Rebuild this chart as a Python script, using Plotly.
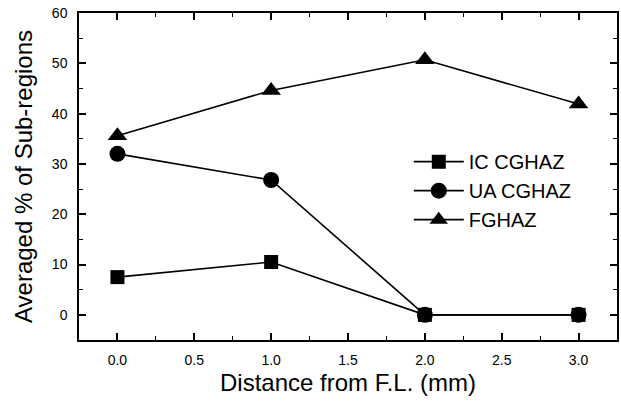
import plotly.graph_objects as go

distance = [0.0, 1.0, 2.0, 3.0]
ic_cghaz = [7.5, 10.5, 0.0, 0.0]
ua_cghaz = [32.0, 26.8, 0.0, 0.0]
fghaz = [35.6, 44.6, 50.7, 41.9]

series = [
    ("IC CGHAZ", ic_cghaz, "square", 14),
    ("UA CGHAZ", ua_cghaz, "circle", 16),
    ("FGHAZ", fghaz, "triangle-up", 17),
]

fig = go.Figure()
# draw FGHAZ and UA first so that squares sit on top at zero, but keep legend order
order = [2, 1, 0]
for i in order:
    name, vals, sym, size = series[i]
    fig.add_trace(go.Scatter(
        x=distance, y=vals, name=name, mode="lines+markers",
        line=dict(color="black", width=1.6),
        marker=dict(symbol=sym, size=size, color="black"),
        legendrank=i + 1,
    ))

axis_common = dict(
    showline=True, linecolor="black", linewidth=1.5, mirror="ticks",
    ticks="inside", ticklen=7, tickwidth=1.5, tickcolor="black",
    showgrid=False, zeroline=False,
    tickfont=dict(family="Liberation Sans, Arial", size=14, color="black"),
)

fig.update_xaxes(
    range=[-0.25, 3.25], dtick=0.5, tick0=0, tickformat=".1f",
    minor=dict(ticks="inside", ticklen=4, dtick=0.25, tickcolor="black", tickwidth=1.2),
    title=dict(text="Distance from F.L. (mm)", font=dict(family="Liberation Sans, Arial", size=24, color="black"), standoff=8),
    ticklabelstandoff=6,
    **axis_common,
)
fig.update_yaxes(
    range=[-5, 60], dtick=10, tick0=0,
    minor=dict(ticks="inside", ticklen=4, dtick=5, tickcolor="black", tickwidth=1.2),
    title=dict(text="Averaged % of Sub-regions", font=dict(family="Liberation Sans, Arial", size=24, color="black"), standoff=12),
    ticklabelstandoff=7,
    **axis_common,
)

fig.update_layout(
    width=621, height=402,
    margin=dict(l=79, r=4, t=13, b=62, autoexpand=False),
    paper_bgcolor="white", plot_bgcolor="white",
    showlegend=True,
    legend=dict(x=0.613, y=0.605, xanchor="left", yanchor="top",
                bgcolor="rgba(0,0,0,0)", borderwidth=0,
                font=dict(family="Liberation Sans, Arial", size=20, color="black"),
                traceorder="normal", itemwidth=50),
)

fig.write_html("out.html")
